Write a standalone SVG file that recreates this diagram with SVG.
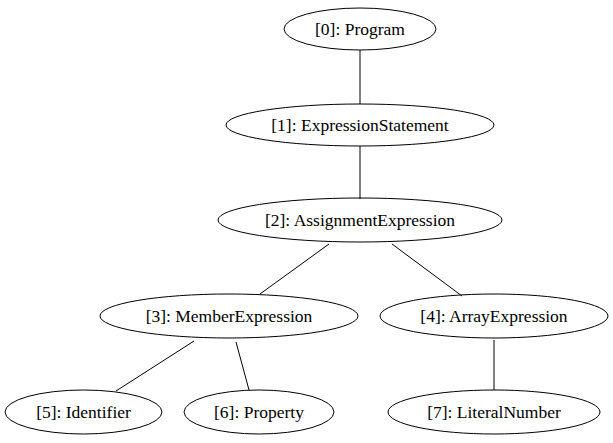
<svg xmlns="http://www.w3.org/2000/svg" width="613" height="443" viewBox="0 0 613 443">
<style>
.n ellipse{fill:none;stroke:#000;stroke-width:1}
#edges line{stroke:#000;stroke-width:1}
</style>
<rect width="613" height="443" fill="#fff"/>
<g id="edges">
<line x1="360" y1="50" x2="360" y2="104"/>
<line x1="360" y1="146" x2="360" y2="199"/>
<line x1="329" y1="244" x2="260" y2="294"/>
<line x1="392" y1="244" x2="462" y2="296"/>
<line x1="194" y1="341" x2="116" y2="391"/>
<line x1="236" y1="342" x2="249" y2="390"/>
<line x1="494" y1="340" x2="494" y2="390"/>
</g>
<g font-family="'Liberation Serif', 'Times New Roman', serif" font-size="17.5" text-anchor="middle" fill="#000">
<g id="n0" class="n"><ellipse cx="360" cy="29" rx="76" ry="21"/><text x="360" y="35">[0]: Program</text></g>
<g id="n1" class="n"><ellipse cx="360" cy="125" rx="134" ry="21"/><text x="360" y="131">[1]: ExpressionStatement</text></g>
<g id="n2" class="n"><ellipse cx="360" cy="220" rx="142" ry="22"/><text x="360" y="226">[2]: AssignmentExpression</text></g>
<g id="n3" class="n"><ellipse cx="229" cy="316" rx="129" ry="22"/><text x="229" y="322">[3]: MemberExpression</text></g>
<g id="n4" class="n"><ellipse cx="494" cy="316" rx="114" ry="22"/><text x="494" y="322">[4]: ArrayExpression</text></g>
<g id="n5" class="n"><ellipse cx="83.5" cy="412" rx="78.5" ry="22"/><text x="83.5" y="418">[5]: Identifier</text></g>
<g id="n6" class="n"><ellipse cx="259" cy="412" rx="75" ry="22"/><text x="259" y="418">[6]: Property</text></g>
<g id="n7" class="n"><ellipse cx="494" cy="412" rx="106" ry="22"/><text x="494" y="418">[7]: LiteralNumber</text></g>
</g>
</svg>
